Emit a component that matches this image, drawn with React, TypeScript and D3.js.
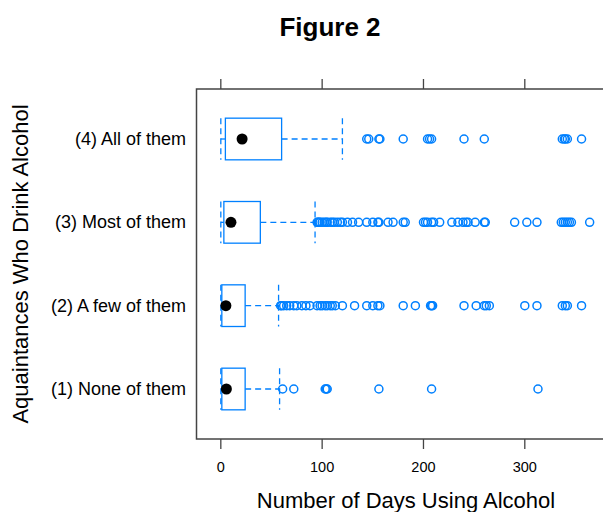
import React from "react";
import * as d3 from "d3";

// categories, bottom to top
const categories = [
  "(1) None of them",
  "(2) A few of them",
  "(3) Most of them",
  "(4) All of them",
];

// [lower whisker, q1, median, q3, upper whisker]
const boxStats = [
  [0, 1, 5.5, 24, 58],
  [0, 1, 5, 24, 57],
  [0, 3, 10, 39, 93],
  [0, 4.5, 21, 60, 120],
];

const outliers = [
  [61, 72, 103, 104, 105, 156, 208, 313],
  [59, 60, 62, 65, 68, 72, 75, 80, 84, 88, 95, 98, 100, 103, 105, 108, 110, 113, 120, 132, 144, 150, 155, 157, 180, 192, 207, 208, 209, 240, 252, 260, 262, 265, 300, 312, 337, 340, 342, 356],
  [95, 96, 97, 98, 100, 102, 104, 105, 108, 110, 112, 115, 118, 120, 125, 130, 136, 144, 150, 155, 156, 165, 170, 180, 182, 200, 202, 204, 208, 210, 216, 228, 234, 239, 242, 244, 251, 260, 261, 290, 302, 312, 336, 338, 340, 342, 344, 346, 364],
  [144, 146, 156, 157, 180, 204, 206, 208, 240, 260, 337, 339, 340, 342, 356],
];

const xTicks = [0, 100, 200, 300];

const title = "Figure 2";
const xLabel = "Number of Days Using Alcohol";
const yLabel = "Aquaintances Who Drink Alcohol";

const W = 603;
const H = 512;
const left = 196.5;
const right = 616;
const top = 89;
const bottom = 439;
const blue = "#0080ff";
const font = "'Liberation Sans', Arial, Helvetica, sans-serif";

const App = () => {
  const x = d3.scaleLinear().domain([-24, 390]).range([left, right]);
  const y = d3.scalePoint<string>().domain(categories).range([bottom, top]).padding(0.6);
  const half = y.step() * 0.25;

  return (
    <svg width={W} height={H} style={{ position: "absolute", left: 0, top: 0 }} fontFamily={font}>
      <rect width={W} height={H} fill="white" />
      <text x={330} y={36} textAnchor="middle" fontSize={26} fontWeight="bold">
        {title}
      </text>

      {/* panel frame */}
      <rect x={left} y={top} width={right - left} height={bottom - top} fill="none" stroke="#444" strokeWidth={1.5} />

      {/* ticks top and bottom */}
      {xTicks.map(t => (
        <g key={t}>
          <line x1={x(t)} x2={x(t)} y1={top} y2={top - 10} stroke="#444" strokeWidth={1.3} />
          <line x1={x(t)} x2={x(t)} y1={bottom} y2={bottom + 10} stroke="#444" strokeWidth={1.3} />
          <text x={x(t)} y={472} textAnchor="middle" fontSize={14.5}>
            {t}
          </text>
        </g>
      ))}

      {categories.map((c, i) => {
        const cy = y(c) as number;
        const [lo, q1, med, q3, hi] = boxStats[i];
        return (
          <g key={c}>
            <text x={186} y={cy + 6} textAnchor="end" fontSize={18}>
              {c}
            </text>
            {/* whiskers */}
            <g stroke={blue} strokeWidth={1.3} strokeDasharray="6,4" fill="none">
              <line x1={x(lo)} x2={x(q1)} y1={cy} y2={cy} />
              <line x1={x(q3)} x2={x(hi)} y1={cy} y2={cy} />
              <line x1={x(lo)} x2={x(lo)} y1={cy - half} y2={cy + half} />
              <line x1={x(hi)} x2={x(hi)} y1={cy - half} y2={cy + half} />
            </g>
            <rect
              x={x(q1)}
              y={cy - half}
              width={x(q3) - x(q1)}
              height={half * 2}
              fill="none"
              stroke={blue}
              strokeWidth={1.3}
            />
            {outliers[i].map((v, j) => (
              <circle key={j} cx={x(v)} cy={cy} r={4} fill="none" stroke={blue} strokeWidth={1.5} />
            ))}
            <circle cx={x(med)} cy={cy} r={5.5} fill="black" />
          </g>
        );
      })}

      <text x={406} y={508} textAnchor="middle" fontSize={22}>
        {xLabel}
      </text>
      <text
        transform={`translate(28,${(top + bottom) / 2}) rotate(-90)`}
        textAnchor="middle"
        fontSize={22}
      >
        {yLabel}
      </text>
    </svg>
  );
};

export default App;
